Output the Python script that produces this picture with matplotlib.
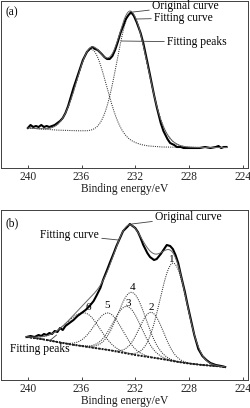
import numpy as np
import matplotlib
matplotlib.use("Agg")
import matplotlib.pyplot as plt

plt.rcParams['font.family'] = ['Liberation Serif', 'DejaVu Serif']

# ---------------- data: panel (a) ----------------
a_orig_E = [240.0, 239.8, 239.6, 239.4, 239.2, 239.0, 238.8, 238.6, 238.4, 238.2, 238.0, 237.8,
            237.6, 237.4, 237.2, 237.0, 236.8, 236.6, 236.4, 236.1, 235.9, 235.6, 235.4, 235.2,
            235.0, 234.8, 234.5, 234.3, 234.1, 233.9, 233.7, 233.5, 233.3, 233.1, 232.9, 232.7,
            232.5, 232.3, 232.1, 231.9, 231.6, 231.4, 231.1, 230.9, 230.6, 230.4, 230.1, 229.9,
            229.6, 229.4, 229.1, 228.9, 228.6, 228.4, 228.0, 227.6, 227.2, 226.8, 226.4, 226.0,
            225.8, 225.6, 225.4, 225.2]
a_orig_I = [40, 43, 41, 42, 41, 43, 41, 42, 41, 42, 43, 45,
            47, 50, 55, 62, 71, 80, 88, 100, 108, 116, 119, 121,
            119, 118, 114, 111, 109, 109, 112, 118, 126, 135, 142, 149,
            153, 156, 152, 146, 135, 125, 106, 93, 73, 61, 45, 37,
            29, 25, 23, 21, 21, 20, 20, 20, 20, 21, 20, 21,
            22, 20, 21, 21]
a_bg_E = [240.0, 239.0, 238.0, 237.0, 236.0, 235.4, 235.0, 234.5, 234.0, 233.5, 233.0,
          232.5, 232.0, 231.5, 231.0, 230.0, 228.0, 225.2]
a_bg_I = [40, 39, 38, 37.5, 37, 36, 35, 33.5, 32, 30, 28,
          26, 24.5, 23, 22, 21, 20.5, 20.5]
a_peak_center = [235.25, 232.3]
a_peak_height = [83, 129]
a_peak_sigma_hi = [1.1, 1.05]   # high binding-energy side
a_peak_sigma_lo = [1.1, 1.25]   # low binding-energy side

# ---------------- data: panel (b) ----------------
b_orig_E = [240.1, 239.8, 239.5, 239.2, 239.0, 238.8, 238.6, 238.4, 238.2, 238.0, 237.8, 237.6,
            237.4, 237.2, 237.0, 236.8, 236.6, 236.3, 236.0, 235.7, 235.4, 235.1, 234.9, 234.6,
            234.4, 234.1, 233.9, 233.6, 233.4, 233.1, 232.9, 232.6, 232.4, 232.2, 232.0, 231.8,
            231.6, 231.4, 231.1, 230.9, 230.6, 230.4, 230.1, 229.9, 229.65, 229.4, 229.2, 229.0,
            228.8, 228.6, 228.3, 228.1, 227.9, 227.6, 227.3, 227.0, 226.7, 226.4, 226.0, 225.6,
            225.3]
b_orig_I = [43, 44, 43, 45, 44, 46, 45, 47, 46, 49, 48, 52,
            50, 54, 56, 58, 60, 64, 67, 70, 74, 79, 84, 92,
            100, 110, 117, 127, 134, 143, 149, 153, 156, 154, 152, 148,
            142, 135, 127, 123, 120, 121, 126, 130, 135, 134, 131, 125,
            117, 105, 88, 75, 63, 45, 31, 24, 20, 17, 15, 14,
            13]
b_bg_E = [240.1, 239.0, 238.0, 237.0, 236.0, 235.0, 234.0, 233.0, 232.0, 231.0, 230.0,
          229.0, 228.0, 227.0, 226.0, 225.3]
b_bg_I = [43, 41, 38.5, 36, 34, 32, 30, 27.5, 25, 23, 21,
          18.5, 16.5, 15, 14, 13]
b_peak_names = ['1', '2', '3', '4', '5', '6']
b_peak_center = [229.15, 230.8, 232.6, 232.25, 234.0, 235.75]
b_peak_height = [98, 45, 47, 62, 37, 33.5]
b_peak_sigma_hi = [1.0, 0.9, 1.05, 1.05, 1.05, 1.4]
b_peak_sigma_lo = [1.0, 0.9, 1.05, 1.05, 1.05, 1.1]
b_label_E = [229.3, 230.8, 232.5, 232.2, 234.1, 235.5]
b_label_I = [121, 73, 77, 92, 74, 72]

ticks = [240, 236, 232, 228, 224]
xlabel = 'Binding energy/eV'


def gauss(E, c, h, s_hi, s_lo):
    s = np.where(E >= c, s_hi, s_lo)
    return h * np.exp(-(E - c) ** 2 / (2 * s ** 2))


fig = plt.figure(figsize=(2.5, 4.08), dpi=100)
W, H = 250.0, 408.0
axA = fig.add_axes([1 / W, (H - 168) / H, 247 / W, 167 / H])
axB = fig.add_axes([1 / W, (H - 380) / H, 247 / W, 170 / H])

FS = 8.3
DOT = (0, (1, 1.1))
for ax, top in ((axA, 167), (axB, 170)):
    ax.set_xlim(242.0, 223.6)
    ax.set_ylim(0, top)
    ax.set_yticks([])
    ax.set_xticks(ticks)
    ax.set_xticklabels([str(t) for t in ticks], fontsize=FS)
    ax.tick_params(axis='x', direction='in', length=2.5, width=0.6, pad=2.5, colors='0.15')
    ax.set_xlabel(xlabel, fontsize=FS, labelpad=0, color='0.1')
    for sp in ax.spines.values():
        sp.set_linewidth(0.7)
        sp.set_color('0.25')

# ---- panel (a)
Ea = np.linspace(240.0, 225.2, 400)
bga = np.interp(Ea[::-1], a_bg_E[::-1], a_bg_I[::-1])[::-1]
fit_a = bga.copy()
for c, h, sh, sl in zip(a_peak_center, a_peak_height, a_peak_sigma_hi, a_peak_sigma_lo):
    g = gauss(Ea, c, h, sh, sl)
    fit_a += g
    axA.plot(Ea, bga + g, linestyle=DOT, lw=0.75, color='0.2')
axA.plot(a_orig_E, a_orig_I, color='black', lw=1.5)
axA.plot(Ea, fit_a, color='0.4', lw=0.7)

ann = dict(arrowstyle='-', lw=0.6, color='0.25', shrinkA=0, shrinkB=0)
axA.annotate('Original curve', xy=(232.16, 156), xytext=(230.75, 162), fontsize=FS,
             ha='left', va='center', arrowprops=ann)
axA.annotate('Fitting curve', xy=(231.9, 149), xytext=(230.6, 150), fontsize=FS,
             ha='left', va='center', arrowprops=ann)
axA.annotate('Fitting peaks', xy=(233.05, 127), xytext=(229.63, 126), fontsize=FS,
             ha='left', va='center', arrowprops=ann)
axA.text(241.7, 156, '(a)', fontsize=FS, ha='left', va='center')

# ---- panel (b)
Eb = np.linspace(240.1, 225.3, 400)
bgb = np.interp(Eb[::-1], b_bg_E[::-1], b_bg_I[::-1])[::-1]
fit_b = bgb.copy()
for c, h, sh, sl in zip(b_peak_center, b_peak_height, b_peak_sigma_hi, b_peak_sigma_lo):
    g = gauss(Eb, c, h, sh, sl)
    fit_b += g
    axB.plot(Eb, bgb + g, linestyle=DOT, lw=0.75, color='0.2')
axB.plot(b_bg_E, b_bg_I, linestyle=(0, (1, 0.7)), lw=1.4, color='0.1')
axB.plot(b_orig_E, b_orig_I, color='black', lw=1.5)
axB.plot(Eb, fit_b, color='0.4', lw=0.7)
for n, e, i in zip(b_peak_names, b_label_E, b_label_I):
    axB.text(e, i, n, fontsize=8, ha='center', va='center')

axB.annotate('Original curve', xy=(232.26, 156), xytext=(230.52, 163), fontsize=FS,
             ha='left', va='center', arrowprops=ann)
axB.annotate('Fitting curve', xy=(233.26, 140), xytext=(234.7, 145), fontsize=FS,
             ha='right', va='center', arrowprops=ann)
axB.annotate('Fitting peaks', xy=(237.86, 45), xytext=(241.34, 31), fontsize=FS,
             ha='left', va='center', arrowprops=ann)
axB.text(241.7, 157, '(b)', fontsize=FS, ha='left', va='center')

fig.savefig('out.png', dpi=100, facecolor='white')
